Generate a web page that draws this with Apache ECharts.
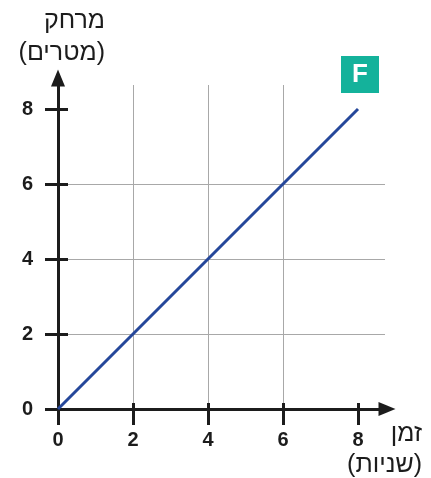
<!DOCTYPE html>
<html>
<head>
<meta charset="utf-8">
<script src="https://cdn.jsdelivr.net/npm/echarts@6/dist/echarts.min.js"></script>
<style>
  html, body { margin: 0; padding: 0; background: #fff; }
  #chart { width: 431px; height: 478px; }
</style>
</head>
<body>
<div id="chart"></div>
<script>
// data
const timeSec = [0, 8];
const distanceM = [0, 8];
const xTicks = [0, 2, 4, 6, 8];
const yTicks = [0, 2, 4, 6, 8];
const xMax = 8.72;
const yMax = 8.64;
const panelLabel = 'F';

const chart = echarts.init(document.getElementById('chart'));
const ink = '#1c1c1c';
const font = '"Liberation Sans", Arial, sans-serif';

const numLabel = {
  fontSize: 20,
  fontWeight: 'bold',
  color: ink,
  fontFamily: font
};

const option = {
  animation: false,
  grid: { left: 58, right: 46, top: 85, bottom: 69 },
  title: [{
    text: 'מרחק\n(מטרים)',
    left: 105,
    top: 5,
    padding: 0,
    textAlign: 'right',
    textStyle: { fontSize: 25, fontWeight: 'normal', color: ink, fontFamily: font, lineHeight: 32 }
  }, {
    text: 'זמן\n(שניות)',
    left: 422,
    top: 419,
    padding: 0,
    textAlign: 'right',
    textStyle: { fontSize: 25, fontWeight: 'normal', color: ink, fontFamily: font, lineHeight: 31 }
  }],
  xAxis: [{
    type: 'value',
    min: 0,
    max: xMax,
    interval: 2,
    axisLine: {
      onZero: false,
      lineStyle: { color: ink, width: 3 },
      symbol: ['none', 'triangle'],
      symbolSize: [14, 17],
      symbolOffset: [0, 2]
    },
    axisTick: { length: 16, customValues: xTicks, lineStyle: { color: ink, width: 3 } },
    axisLabel: Object.assign({ customValues: xTicks, margin: 21 }, numLabel),
    splitLine: { show: true, showMinLine: false, showMaxLine: false, lineStyle: { color: '#a8a8a8', width: 1 } }
  }, {
    // second axis only for the short tick part above the line
    type: 'value',
    position: 'top',
    min: 0,
    max: xMax,
    interval: 2,
    axisLine: { show: false, onZero: true, onZeroAxisIndex: 0 },
    axisTick: { length: 6, customValues: xTicks, lineStyle: { color: ink, width: 3 } },
    axisLabel: { show: false },
    splitLine: { show: false }
  }],
  yAxis: [{
    type: 'value',
    min: 0,
    max: yMax,
    interval: 2,
    axisLine: {
      show: true,
      onZero: false,
      lineStyle: { color: ink, width: 3 },
      symbol: ['none', 'triangle'],
      symbolSize: [14, 17],
      symbolOffset: [0, 7]
    },
    axisTick: { show: true, length: 13, customValues: yTicks, lineStyle: { color: ink, width: 3 } },
    axisLabel: Object.assign({ customValues: yTicks, margin: 25 }, numLabel),
    splitLine: { show: true, showMinLine: false, showMaxLine: false, lineStyle: { color: '#a8a8a8', width: 1 } }
  }, {
    type: 'value',
    position: 'right',
    min: 0,
    max: yMax,
    interval: 2,
    axisLine: { show: false, onZero: true, onZeroAxisIndex: 0 },
    axisTick: { show: true, length: 10, customValues: yTicks, lineStyle: { color: ink, width: 3 } },
    axisLabel: { show: false },
    splitLine: { show: false }
  }],
  graphic: [{
    type: 'rect',
    left: 341,
    top: 56,
    shape: { width: 38, height: 37 },
    style: { fill: '#14b29b' },
    z: 10
  }, {
    type: 'text',
    x: 360,
    y: 75,
    style: {
      text: panelLabel,
      fill: '#fff',
      font: 'bold 26px "Liberation Sans", Arial, sans-serif',
      align: 'center',
      verticalAlign: 'middle'
    },
    z: 11
  }],
  series: [{
    type: 'line',
    xAxisIndex: 0,
    yAxisIndex: 0,
    data: timeSec.map((t, i) => [t, distanceM[i]]),
    symbol: 'none',
    lineStyle: { color: '#25479a', width: 3 },
    z: 5
  }]
};

chart.setOption(option);
</script>
</body>
</html>
